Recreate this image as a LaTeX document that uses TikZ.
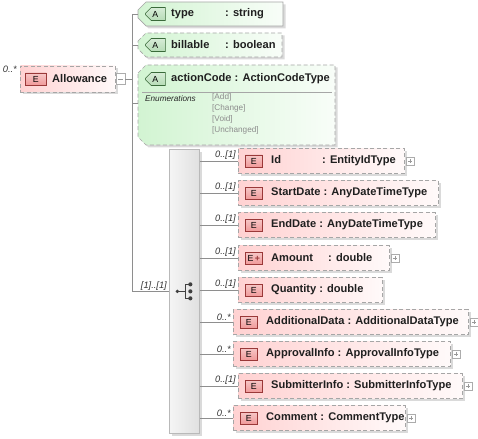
\documentclass[tikz,border=0pt]{standalone}
\usepackage{fontspec}
\setmainfont{Liberation Sans}
\usetikzlibrary{positioning,calc,shadows,shapes.misc}

\definecolor{elemfill}{HTML}{FFD2D2}
\definecolor{attrfill}{HTML}{D2F4D2}
\definecolor{boxline}{HTML}{A6A6A6}
\definecolor{conline}{HTML}{8E8E8E}
\definecolor{ebadge}{HTML}{F09A9A}
\definecolor{ebadgeline}{HTML}{9A3838}
\definecolor{abadge}{HTML}{B6DCB6}
\definecolor{abadgeline}{HTML}{3A6A3A}
\definecolor{enumgray}{HTML}{8C8C8C}
\definecolor{shadowgray}{HTML}{DADADA}

\tikzset{
  con/.style={draw=conline, line width=0.8pt},
  dashline/.style={draw=boxline, line width=0.7pt, dash pattern=on 4pt off 2.5pt},
  solidline/.style={draw=boxline, line width=0.7pt},
  boxshadow/.style={drop shadow={shadow xshift=2.5pt, shadow yshift=-2.5pt, fill=shadowgray, opacity=1}},
  elembox/.style={dashline, left color=elemfill, right color=elemfill!12, minimum height=25pt,
    inner sep=0pt, anchor=west, boxshadow},
  attrshade/.style={left color=attrfill, right color=attrfill!15},
  ebadge/.style={draw=ebadgeline, line width=0.6pt, top color=ebadge!55, bottom color=ebadge,
    minimum width=17pt, minimum height=12pt, inner sep=0pt, font=\fontsize{8.8}{9}\selectfont},
  abadge/.style={chamfered rectangle, chamfered rectangle corners={north west,south west},
    chamfered rectangle xsep=3pt, draw=abadgeline, line width=0.6pt, top color=abadge!55, bottom color=abadge,
    minimum width=20pt, minimum height=13pt, inner sep=0pt, font=\fontsize{8.8}{9}\selectfont},
  elabel/.style={inner sep=0pt, font=\bfseries\fontsize{11.1}{12}\selectfont, text=black!88},
  card/.style={inner sep=0pt, font=\itshape\fontsize{9.3}{10}\selectfont, text=black!80},
  enumtext/.style={inner sep=0pt, anchor=west, font=\fontsize{8.2}{9}\selectfont, text=enumgray},
  seqbar/.style={draw=gray!55, line width=0.7pt, left color=gray!8, right color=gray!24, inner sep=0pt, boxshadow},
  plusbox/.style={draw=gray!65, fill=white, line width=0.5pt, minimum size=8pt, inner sep=0pt,
    path picture={\draw[gray!80, line width=0.5pt]
      ([xshift=1.8pt]path picture bounding box.west) -- ([xshift=-1.8pt]path picture bounding box.east)
      ([yshift=-1.8pt]path picture bounding box.north) -- ([yshift=1.8pt]path picture bounding box.south);}},
  minusbox/.style={draw=gray!65, fill=white, line width=0.5pt, minimum width=9pt, minimum height=11pt, inner sep=0pt,
    path picture={\draw[gray!80, line width=0.5pt]
      ([xshift=1.8pt]path picture bounding box.west) -- ([xshift=-1.8pt]path picture bounding box.east);}}
}

% attribute box with chamfered left corners: x1, top, x2, bottom, line style
\newcommand{\attrbox}[5]{%
  \begin{scope}[shift={(2.5,-2.5)}]
    \fill[shadowgray] (#1,-#2-8) -- (#1+8,-#2) -- (#3,-#2) -- (#3,-#4) -- (#1+8,-#4) -- (#1,-#4+8) -- cycle;
  \end{scope}
  \path[attrshade,#5] (#1,-#2-8) -- (#1+8,-#2) -- (#3,-#2) -- (#3,-#4) -- (#1+8,-#4) -- (#1,-#4+8) -- cycle;
}

\begin{document}
\begin{tikzpicture}[x=1pt,y=1pt]
  \useasboundingbox (0,0) rectangle (478,-438);

  % root element
  \node[elembox, minimum width=95pt, minimum height=26pt] (allow) at (20,-79) {};
  \node[ebadge, minimum width=21pt, right=5pt of allow.west] (ballow) {E};
  \node[elabel, right=32pt of allow.west] {Allowance};
  \node[minusbox, right=0pt of allow.east] (mallow) {};
  \node[card, above left=6pt and 3pt of allow.west] {0..*};

  \coordinate (trunk) at (132,-14);

  % attributes
  \attrbox{138}{2}{283}{26}{solidline}
  \coordinate (aType) at (138,-14);
  \node[abadge, right=7pt of aType] {A};
  \node[elabel, right=33pt of aType] {\makebox[54pt][l]{type}: string};

  \attrbox{138}{33}{282}{57}{dashline}
  \coordinate (aBill) at (138,-45);
  \node[abadge, right=7pt of aBill] {A};
  \node[elabel, right=33pt of aBill] {\makebox[54pt][l]{billable}: boolean};

  \attrbox{138}{65}{335}{145}{dashline}
  \coordinate (aCodeHd) at (138,-79);
  \coordinate (aCode) at (138,-103);
  \node[abadge, right=7pt of aCodeHd] {A};
  \node[elabel, right=33pt of aCodeHd] {actionCode : ActionCodeType};
  \draw[boxline, line width=0.7pt] (142,-92) -- (332,-92);
  \node[enumtext, font=\itshape\fontsize{8.2}{9}\selectfont, text=black!85] at (145,-99) {Enumerations};
  \foreach \v/\y in {{[Add]}/97, {[Change]}/108, {[Void]}/119, {[Unchanged]}/130}
    \node[enumtext] at (212,-\y) {\v};

  % sequence compositor
  \node[seqbar, minimum width=30pt, minimum height=284pt, anchor=north west] (seq) at (169,-149) {};
  \begin{scope}[shift={(seq.center)}, black!75]
    \draw[line width=0.8pt] (-7,0) -- (1,0) (1,-7) -- (1,7) (1,7) -- (6,7) (1,-7) -- (6,-7);
    \fill (-7,0) circle (1.8) (6,7) circle (2.1) (6,0) circle (2.1) (6,-7) circle (2.1);
  \end{scope}
  \node[card, above left=1pt and 2pt of seq.west] {[1]..[1]};

  % connectors to the root
  \draw[con] (mallow.east) -- (mallow.east -| trunk);
  \draw[con] (trunk) -- (aType);
  \draw[con] (trunk |- aBill) -- (aBill);
  \draw[con] (trunk |- aCode) -- (aCode);
  \draw[con] (trunk) -- (trunk |- seq.west) -- (seq.west);

  % child elements
  \foreach \i/\cy/\xl/\xr/\txt/\crd/\plus/\btxt in {
      1/161/238/404/{\makebox[51pt][l]{Id}: EntityIdType}/{0..[1]}/1/E,
      2/193/238/438/{StartDate : AnyDateTimeType}/{0..[1]}/0/E,
      3/225/238/435/{EndDate : AnyDateTimeType}/{0..[1]}/0/E,
      4/258/238/389/{\makebox[57pt][l]{Amount}: double}/{0..[1]}/1/{E\hspace{1.5pt}\textcolor{ebadgeline}{\bfseries+}},
      5/290/238/382/{Quantity : double}/{0..[1]}/0/E,
      6/322/233/468/{AdditionalData : AdditionalDataType}/{0..*}/1/E,
      7/354/233/450/{ApprovalInfo : ApprovalInfoType}/{0..*}/1/E,
      8/386/238/462/{SubmitterInfo : SubmitterInfoType}/{0..[1]}/1/E,
      9/418/233/405/{Comment : CommentType}/{0..*}/1/E} {
    \pgfmathsetmacro\w{\xr-\xl}
    \node[elembox, minimum width=\w pt] (e\i) at (\xl,-\cy) {};
    \node[ebadge, right=7pt of e\i.west] (b\i) {\btxt};
    \node[elabel, right=33pt of e\i.west] {\txt};
    \node[card, above left=1pt and 2pt of e\i.west] {\crd};
    \draw[con] (seq.east |- e\i.west) -- (e\i.west);
    \ifnum\plus=1
      \node[plusbox, right=1pt of e\i.east] (p\i) {};
    \fi
  }
\end{tikzpicture}
\end{document}
